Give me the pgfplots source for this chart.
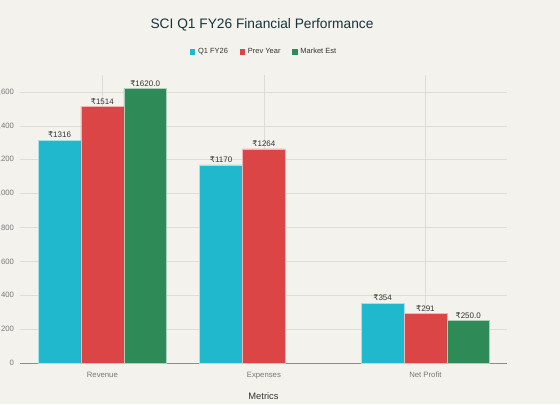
\documentclass[border=0pt]{standalone}
\usepackage{pgfplots}
\pgfplotsset{compat=1.18}
\usepackage{fontspec}
\setmainfont{Liberation Sans}
\newfontfamily\dejavu{DejaVu Sans}
\newcommand{\Rs}{{\dejavu ₹}}

\definecolor{bgc}{HTML}{F3F2EC}
\definecolor{titlec}{HTML}{13343B}
\definecolor{cq}{HTML}{1FB8CD}
\definecolor{cp}{HTML}{DB4545}
\definecolor{cm}{HTML}{2E8B57}
\definecolor{gridc}{HTML}{DDDDD6}
\definecolor{tickc}{HTML}{777777}
\definecolor{labc}{HTML}{333333}

\begin{document}
\begin{tikzpicture}
\fill[bgc] (0pt,0pt) rectangle (420pt,303pt);
\node[text=titlec, font=\fontsize{10.3}{12}\selectfont] at (196.5pt,284.5pt) {SCI Q1 FY26 Financial Performance};
\begin{axis}[
    at={(15pt,30.75pt)}, anchor=south west,
    scale only axis, width=365.25pt, height=216pt,
    ymin=0, ymax=1700, xmin=-0.51, xmax=2.505,
    ybar,
    axis x line*=bottom, axis y line*=left,
    x axis line style={-, color=gray!90},
    y axis line style={draw=none},
    xtick={0,1,2}, xticklabels={Revenue, Expenses, Net Profit},
    ytick={0,200,...,1600},
    /pgf/number format/assume math mode=true,
    major tick length=0pt,
    xmajorgrids, ymajorgrids,
    grid style={gridc, line width=0.4pt},
    tick label style={font=\fontsize{5.8}{6}\selectfont, text=tickc},
    yticklabel style={xshift=-1pt},
    xticklabel style={yshift=-3.5pt, text depth=0pt},
    xlabel={Metrics},
    xlabel style={font=\fontsize{7}{8}\selectfont, text=labc, yshift=-4pt},
    point meta=explicit symbolic,
    nodes near coords,
    every node near coord/.append style={font=\fontsize{6}{7}\selectfont, text=labc, inner sep=1.5pt},
    legend style={at={(0.502,1.08)}, anchor=center, legend columns=-1,
        draw=none, fill=none, font=\fontsize{5.6}{6}\selectfont, text=labc,
        /tikz/every even column/.append style={column sep=7pt}},
    legend image code/.code={\fill[#1, draw=none] (0pt,-2pt) rectangle (4pt,2pt);},
  ]
\addplot[fill=cq, draw=white!60!cq, line width=0.4pt, bar width=0.265, bar shift=-0.265]
  coordinates {(0,1316) [\Rs1316] (1,1170) [\Rs1170] (2,354) [\Rs354]};
\addplot[fill=cp, draw=white!60!cp, line width=0.4pt, bar width=0.265, bar shift=0]
  coordinates {(0,1514) [\Rs1514] (1,1264) [\Rs1264] (2,291) [\Rs291]};
\addplot[fill=cm, draw=white!60!cm, line width=0.4pt, bar width=0.265, bar shift=0.265]
  coordinates {(0,1620) [\Rs1620.0] (2,250) [\Rs250.0]};
\legend{Q1 FY26, Prev Year, Market Est}
\end{axis}
\pgfresetboundingbox
\path[use as bounding box] (0pt,0pt) rectangle (420pt,303pt);
\end{tikzpicture}
\end{document}
